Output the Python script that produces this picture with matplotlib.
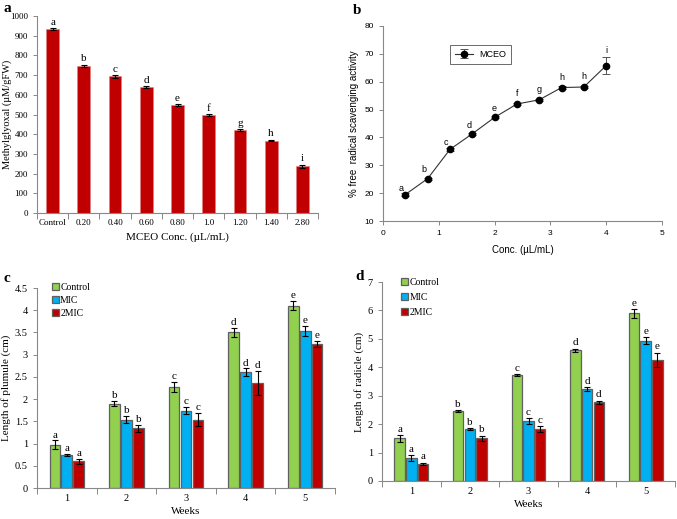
import matplotlib
matplotlib.use("Agg")
import matplotlib.pyplot as plt
import numpy as np

# ---------------- data ----------------
a_categories = ["Control", "0.20", "0.40", "0.60", "0.80", "1.0", "1.20", "1.40", "2.80"]
a_values = [933, 747, 693, 638, 546, 497, 421, 367, 237]
a_errors = [4, 4, 6, 5, 5, 5, 4, 4, 7]
a_letters = ["a", "b", "c", "d", "e", "f", "g", "h", "i"]

b_conc = [0.4, 0.8, 1.2, 1.6, 2.0, 2.4, 2.8, 3.2, 3.6, 4.0]
b_values = [19.5, 25.2, 35.7, 41.3, 47.2, 52.0, 53.5, 57.9, 58.1, 65.8]
b_errors = [0.4, 0.4, 0.4, 0.4, 0.4, 0.4, 0.4, 0.4, 0.4, 3.0]
b_letters = ["a", "b", "c", "d", "e", "f", "g", "h", "h", "i"]

weeks = ["1", "2", "3", "4", "5"]
series_names = ["Control", "MIC", "2MIC"]

c_control = [0.97, 1.90, 2.27, 3.50, 4.10]
c_mic = [0.74, 1.54, 1.74, 2.60, 3.54]
c_2mic = [0.60, 1.34, 1.54, 2.36, 3.24]
c_control_err = [0.10, 0.05, 0.11, 0.10, 0.10]
c_mic_err = [0.03, 0.08, 0.08, 0.09, 0.11]
c_2mic_err = [0.05, 0.08, 0.15, 0.27, 0.06]
c_letters = ["a", "b", "c", "d", "e"]

d_control = [1.50, 2.47, 3.74, 4.60, 5.90]
d_mic = [0.80, 1.84, 2.10, 3.24, 4.94]
d_2mic = [0.60, 1.50, 1.84, 2.77, 4.27]
d_control_err = [0.12, 0.03, 0.03, 0.06, 0.15]
d_mic_err = [0.10, 0.03, 0.10, 0.06, 0.13]
d_2mic_err = [0.05, 0.10, 0.10, 0.06, 0.25]
d_letters = ["a", "b", "c", "d", "e"]

# ---------------- style ----------------
SERIF = ["Liberation Serif", "DejaVu Serif"]
SANS = ["Liberation Sans", "DejaVu Sans"]
GREEN = "#92D050"
BLUE = "#00B0F0"
RED = "#C00000"
SPINE = "#888888"

W, H = 677, 519
fig = plt.figure(figsize=(W / 100, H / 100), dpi=100)


def rect(l, r, t, b):
    return [l / W, 1 - b / H, (r - l) / W, (b - t) / H]


def style_spines(ax):
    for s in ["top", "right"]:
        ax.spines[s].set_visible(False)
    for s in ["left", "bottom"]:
        ax.spines[s].set_color(SPINE)
        ax.spines[s].set_linewidth(0.8)
    ax.tick_params(colors="black", length=3, width=0.7, direction="out")
    ax.tick_params(axis="both", color=SPINE)


def category_axis(ax, n, labels, fs):
    ax.set_xlim(0.5, n + 0.5)
    ax.set_xticks(np.arange(1, n + 1))
    ax.set_xticklabels(labels, fontsize=fs, family=SERIF)
    ax.tick_params(axis="x", length=0, pad=4)
    ax.set_xticks(np.arange(0.5, n + 1.5, 1), minor=True)
    ax.tick_params(axis="x", which="minor", length=4, color=SPINE, width=0.7)


# ---------------- panel a ----------------
axa = fig.add_axes(rect(37, 318, 16, 213))
xa = np.arange(1, len(a_categories) + 1)
axa.bar(xa, a_values, width=0.41, color=RED, edgecolor="#e08080", linewidth=0.4,
        yerr=a_errors, error_kw=dict(ecolor="black", elinewidth=0.8, capsize=2.5, capthick=0.8))
for x, v, e, l in zip(xa, a_values, a_errors, a_letters):
    axa.text(x, v + e + 8, l, ha="center", va="bottom", fontsize=8, family=SERIF)
category_axis(axa, len(a_categories), a_categories, 6.5)
axa.set_ylim(0, 1000)
axa.set_yticks(np.arange(0, 1001, 100))
axa.tick_params(axis="y", labelsize=6.5)
for t in axa.get_yticklabels():
    t.set_family(SERIF)
style_spines(axa)
axa.tick_params(axis="x", length=0)
axa.set_ylabel("Methylglyoxal (µM/gFW)", fontsize=7.5, family=SERIF)
axa.yaxis.set_label_coords((12.5 - 37) / 281, 0.5)
axa.set_xlabel("MCEO Conc. (µL/mL)", fontsize=8, family=SERIF, labelpad=4)
fig.text(3 / W, 1 - 9 / H, "a", fontsize=11, fontweight="bold", family=SERIF, va="center")

# ---------------- panel b ----------------
axb = fig.add_axes(rect(383, 662, 26, 221))
axb.errorbar(b_conc, b_values, yerr=b_errors, color="#333333", marker="o", markersize=4.5,
             markerfacecolor="black", markeredgecolor="black", linewidth=0.8,
             ecolor="#555555", elinewidth=0.7, capsize=3, capthick=0.7, label="MCEO")
b_offsets = [(-0.07, 0.6), (-0.07, 1.6), (-0.07, 1.0), (-0.05, 1.4), (0.0, 1.6),
             (0.0, 2.0), (0.0, 2.0), (0.0, 2.0), (0.0, 2.0), (0.0, 3.8)]
for x, v, l, (dx, dy) in zip(b_conc, b_values, b_letters, b_offsets):
    axb.text(x + dx, v + dy, l, ha="center", va="bottom", fontsize=6.5, family=SANS)
axb.set_xlim(0, 5)
axb.set_ylim(10, 80)
axb.set_xticks(np.arange(0, 6, 1))
axb.set_yticks(np.arange(10, 81, 10))
axb.tick_params(labelsize=6)
for t in axb.get_xticklabels() + axb.get_yticklabels():
    t.set_family(SANS)
style_spines(axb)
axb.set_ylabel("% free  radical scavenging activity", fontsize=7, family=SANS, labelpad=4)
axb.set_xlabel("Conc. (µL/mL)", fontsize=7, family=SANS, labelpad=6)
leg = axb.legend(loc="upper left", bbox_to_anchor=(0.24, 0.905), frameon=True,
                 fancybox=False, edgecolor="#444444", handlelength=2.0, borderpad=0.6,
                 borderaxespad=0, handletextpad=0.6,
                 prop=dict(family=SANS, size=6.5))
leg.get_frame().set_linewidth(0.7)
fig.text(353 / W, 1 - 10 / H, "b", fontsize=11, fontweight="bold", family=SERIF, va="center")


# ---------------- grouped panels ----------------
def grouped(ax, vals, errs, letters, ymax, ystep, ylabel, letter_pad, leg_x, leg_y, leg_sp):
    n = len(weeks)
    x = np.arange(1, n + 1)
    bw = 0.18
    gap = 0.2
    colors = [GREEN, BLUE, RED]
    for i, (v, e, c, name) in enumerate(zip(vals, errs, colors, series_names)):
        xi = x + (i - 1) * gap
        ax.bar(xi, v, width=bw, color=c, edgecolor="#606060", linewidth=0.9,
               yerr=e, error_kw=dict(ecolor="black", elinewidth=0.8, capsize=2.5, capthick=0.8),
               label=name)
        for xx, vv, ee, ll in zip(xi, v, e, letters):
            ax.text(xx, vv + ee + letter_pad, ll, ha="center", va="bottom", fontsize=8, family=SERIF)
    category_axis(ax, n, weeks, 7.5)
    ax.set_ylim(0, ymax)
    ticks = np.arange(0, ymax + 1e-9, ystep)
    ax.set_yticks(ticks)
    ax.set_yticklabels([f"{t:g}" for t in ticks], fontsize=7.5, family=SERIF)
    style_spines(ax)
    ax.tick_params(axis="x", length=0)
    ax.set_ylabel(ylabel, fontsize=8, family=SERIF, labelpad=3)
    ax.set_xlabel("Weeks", fontsize=8, family=SERIF, labelpad=3)
    ax.legend(loc="upper left", bbox_to_anchor=(leg_x, leg_y), frameon=False,
              borderpad=0, borderaxespad=0,
              handlelength=0.7, handleheight=0.7, handletextpad=0.15, labelspacing=leg_sp,
              prop=dict(family=SERIF, size=7))
    return ax


axc = fig.add_axes(rect(37, 335, 288, 488))
grouped(axc, [c_control, c_mic, c_2mic], [c_control_err, c_mic_err, c_2mic_err],
        c_letters, 4.5, 0.5, "Length of plumule (cm)", 0.02, 0.05, 1.025, 0.4)
fig.text(4 / W, 1 - 279 / H, "c", fontsize=11, fontweight="bold", family=SERIF, va="center")

axd = fig.add_axes(rect(382, 675, 282, 481))
grouped(axd, [d_control, d_mic, d_2mic], [d_control_err, d_mic_err, d_2mic_err],
        d_letters, 7, 1, "Length of radicle (cm)", 0.04, 0.065, 1.02, 0.6)
fig.text(355 / W, 1 - 277 / H, "d", fontsize=11, fontweight="bold", family=SERIF, va="center")

fig.savefig("out.png", dpi=100, facecolor="white")
